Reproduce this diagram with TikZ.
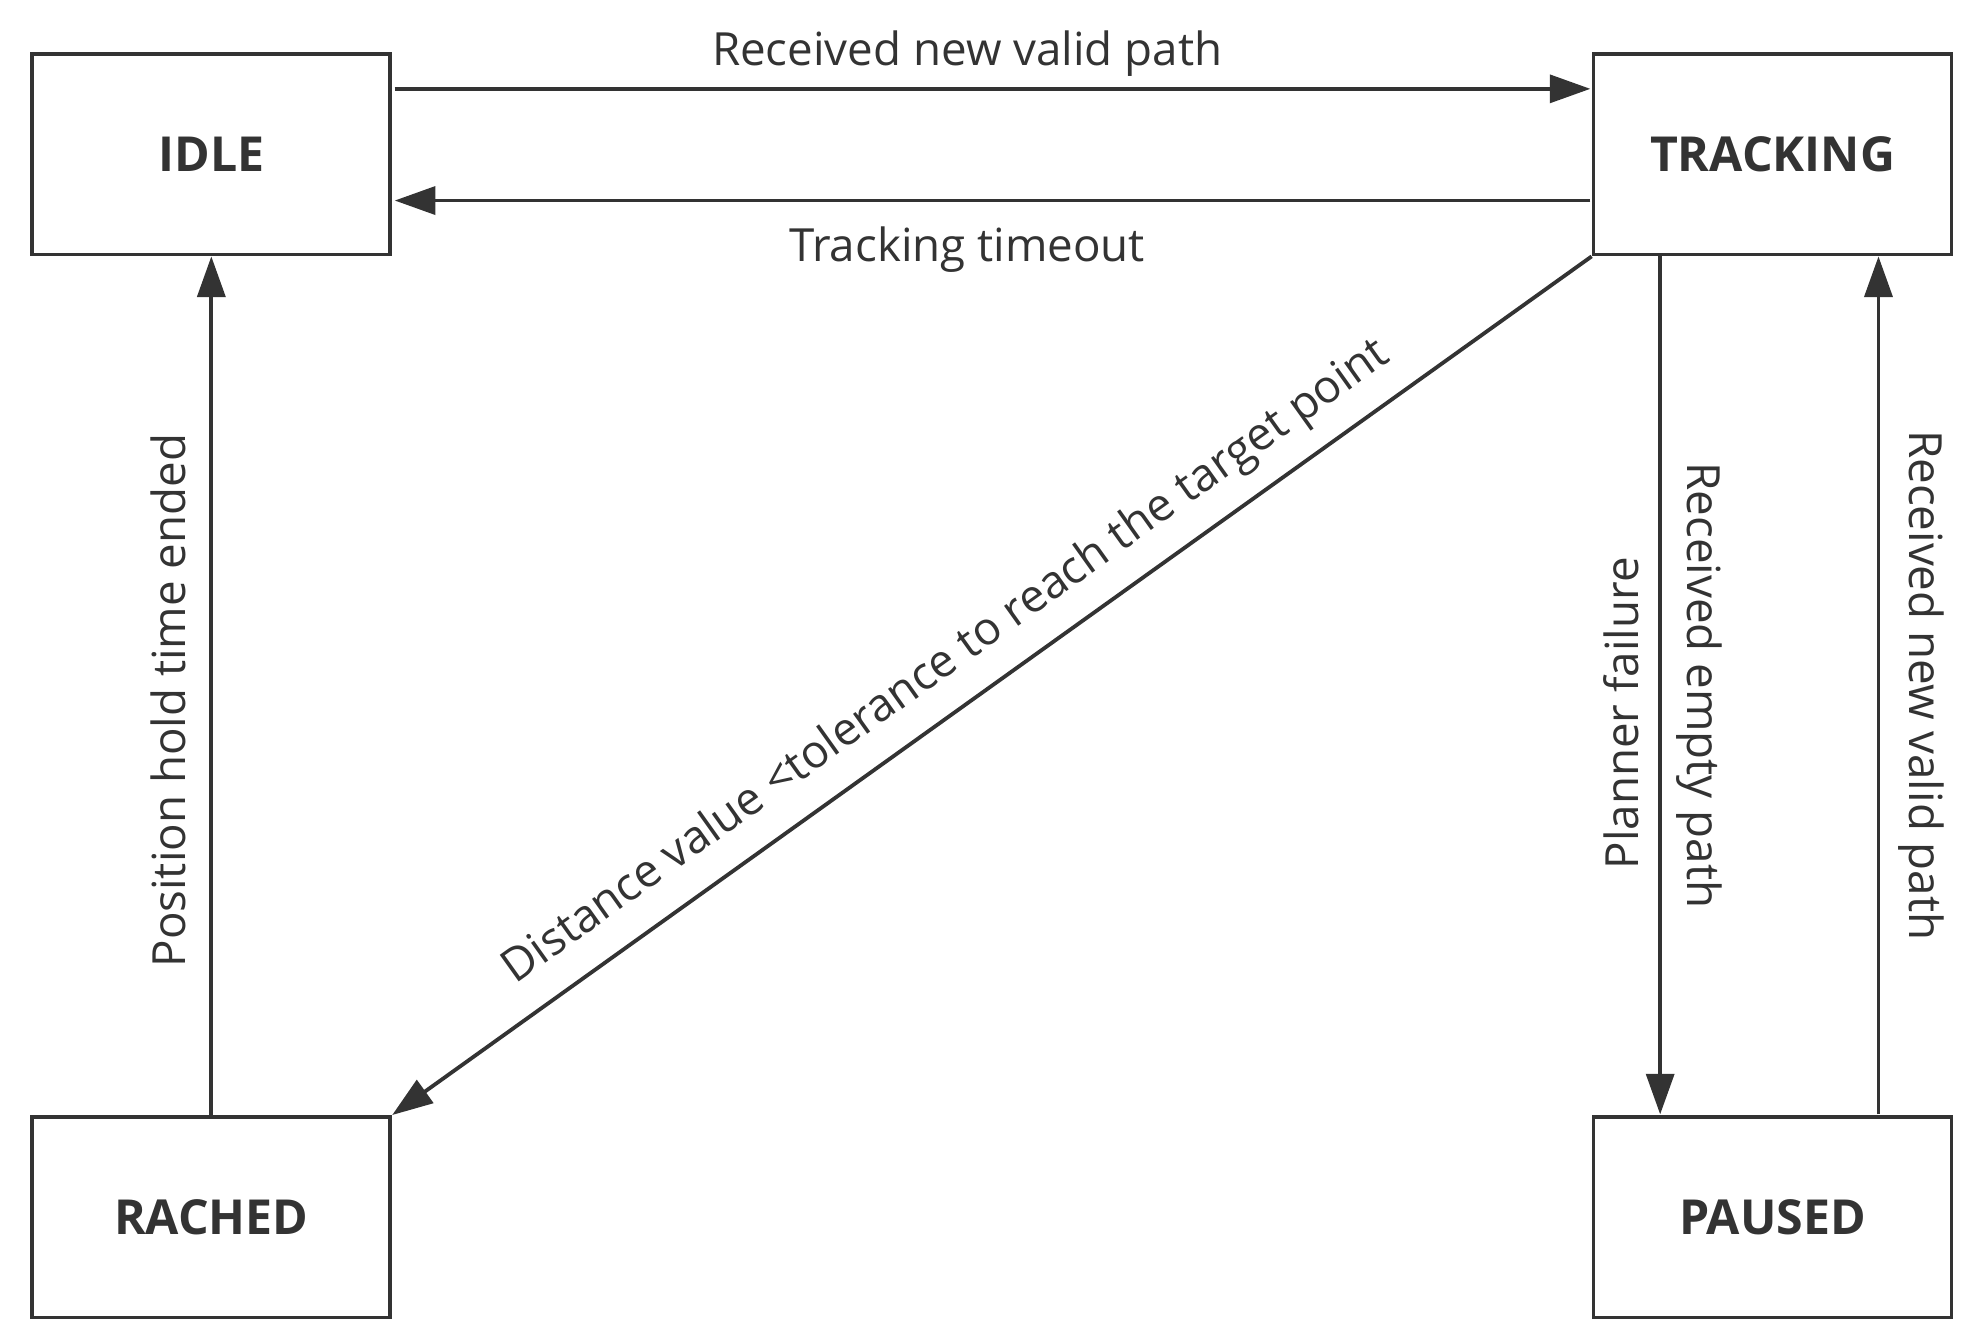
\documentclass[tikz,border=0pt]{standalone}
\usepackage{fontspec}
\setmainfont{Open Sans}
\usetikzlibrary{arrows.meta}
\definecolor{ln}{HTML}{333333}
\begin{document}
\begin{tikzpicture}[x=1pt,y=-1pt,
  st/.style={draw=ln,line width=3pt,minimum width=282pt,minimum height=158pt,font=\fontsize{38}{42}\selectfont\bfseries,text=ln},
  ar/.style={draw=ln,line width=3pt,-{Triangle[length=32pt,width=22pt]}},
  lb/.style={font=\fontsize{36}{40}\selectfont,text=ln,inner sep=0pt}]
\useasboundingbox (0,0) rectangle (1560,1052);
\node[st] (idle) at (166.5,121.5) {IDLE};
\node[st] (trk) at (1396.5,121.5) {TRACKING};
\node[st] (rch) at (166.5,959) {RACHED};
\node[st] (pau) at (1396.5,959) {PAUSED};
\coordinate (a1) at (311,70); \coordinate (a2) at (1253,70);
\draw[ar] (a1) -- (a2);
\coordinate (b1) at (1253,158); \coordinate (b2) at (311,158);
\draw[ar] (b1) -- (b2);
\node[lb] (l1) at (762,42) {Received new valid path};
\node[lb] (l2) at (762,197) {Tracking timeout};
\draw[ar] (trk.south west) -- (rch.north east);
\node[lb,rotate=35.5] (l3) at (746,522) {Distance value <tolerance to reach the target point};
\coordinate (c1) at (1308,202); \coordinate (c2) at (1308,878);
\draw[ar] (c1) -- (c2);
\node[lb,rotate=90] (l4) at (1277,562) {Planner failure};
\node[lb,rotate=-90] (l5) at (1339,540) {Received empty path};
\coordinate (d1) at (1480,878); \coordinate (d2) at (1480,202);
\draw[ar] (d1) -- (d2);
\node[lb,rotate=-90] (l6) at (1514,540) {Received new valid path};
\draw[ar] (rch.north) -- (idle.south);
\node[lb,rotate=90] (l7) at (133,552) {Position hold time ended};
\end{tikzpicture}
\end{document}
